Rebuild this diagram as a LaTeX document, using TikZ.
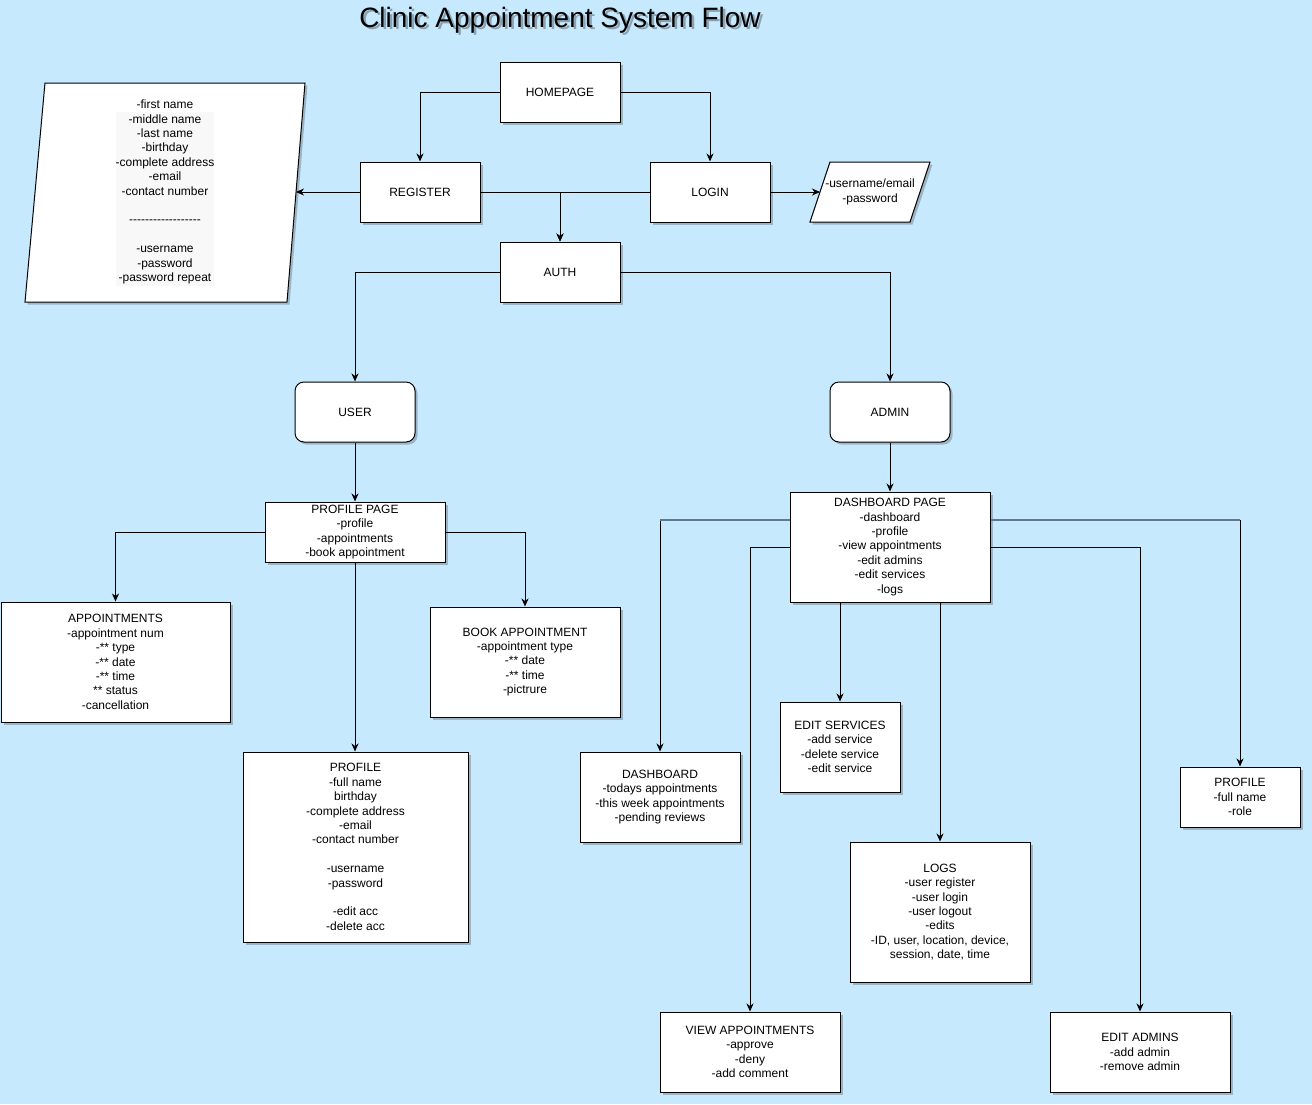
\documentclass[tikz,border=0pt]{standalone}
\usepackage{fontspec}
\setmainfont{Liberation Sans}
\usetikzlibrary{arrows.meta,shadows}
\definecolor{bg}{HTML}{C6E9FE}
\definecolor{segc}{HTML}{5F7A8E}
\definecolor{regbg}{HTML}{F8F8F8}
\newcommand\hy{\mbox{-}}
\begin{document}
\begin{tikzpicture}[x=1pt,y=-1pt,
  every node/.style={font=\fontsize{12}{14.4}\selectfont},
  boxshadow/.style={drop shadow={shadow xshift=2.5pt,shadow yshift=-2.5pt,opacity=0.22,fill=black}},
  box/.style={draw=black,fill=white,line width=1pt,align=center,inner sep=0pt,boxshadow},
  para/.style={draw=black,fill=white,line width=1pt,boxshadow},
  edge/.style={draw=black,line width=1pt,-{Stealth[length=8pt,width=7pt,inset=2.5pt]}},
  grayseg/.style={draw=segc,line width=1.6pt}]
\useasboundingbox (0,0) rectangle (1312,1104);
\fill[bg] (0,0) rectangle (1312,1104);

% title
\node[anchor=base,font=\fontsize{28}{33}\selectfont,text=black,opacity=0.3] (titlesh) at (562.5,29.5) {Clinic Appointment System Flow};
\node[anchor=base,font=\fontsize{28}{33}\selectfont] (title) at (560,27) {Clinic Appointment System Flow};

% parallelograms
\draw[para] (45,83) -- (305,83) -- (287,302) -- (25,302) -- cycle;
\fill[regbg] (116,112) rectangle (214,286);
\node[align=center,inner sep=0pt] (regtext) at (165,192) {-first name\\-middle name\\-last name\\-birthday\\-complete address\\-email\\-contact number\\\mbox{}\\\hy\hy\hy\hy\hy\hy\hy\hy\hy\hy\hy\hy\hy\hy\hy\hy\hy\hy\\\mbox{}\\-username\\-password\\-password repeat};
\coordinate (regpr) at (296,192);

\draw[para] (830,162) -- (930,162) -- (910,222) -- (810,222) -- cycle;
\node[align=center,inner sep=0pt] (logtext) at (870,192) {-username/email\\-password};
\coordinate (logpl) at (820,192);

% boxes
\node[box,minimum width=120pt,minimum height=60pt] (home) at (560,92) {HOMEPAGE};
\node[box,minimum width=120pt,minimum height=60pt] (reg) at (420,192) {REGISTER};
\node[box,minimum width=120pt,minimum height=60pt] (login) at (710,192) {LOGIN};
\node[box,minimum width=120pt,minimum height=60pt] (auth) at (560,272) {AUTH};
\node[box,rounded corners=9pt,minimum width=120pt,minimum height=60pt] (user) at (355,412) {USER};
\node[box,rounded corners=9pt,minimum width=120pt,minimum height=60pt] (admin) at (890,412) {ADMIN};
\node[box,minimum width=180pt,minimum height=60pt] (ppage) at (355,532) {PROFILE PAGE\\-profile\\-appointments\\-book appointment};
\node[box,minimum width=200pt,minimum height=110pt] (dpage) at (890,547) {DASHBOARD PAGE\\-dashboard\\-profile\\-view appointments\\-edit admins\\-edit services\\-logs};
\node[box,minimum width=229pt,minimum height=120pt] (appts) at (115.5,662) {APPOINTMENTS\\-appointment num\\-** type\\-** date\\-** time\\** status\\-cancellation};
\node[box,minimum width=190pt,minimum height=110pt] (book) at (525,662) {BOOK APPOINTMENT\\-appointment type\\-** date\\-** time\\-pictrure};
\node[box,minimum width=225pt,minimum height=190pt] (uprof) at (355.5,847) {PROFILE\\-full name\\birthday\\-complete address\\-email\\-contact number\\\mbox{}\\-username\\-password\\\mbox{}\\-edit acc\\-delete acc};
\node[box,minimum width=160pt,minimum height=90pt] (dash) at (660,797) {DASHBOARD\\-todays appointments\\-this week appointments\\-pending reviews};
\node[box,minimum width=120pt,minimum height=90pt] (esvc) at (840,747) {EDIT SERVICES\\-add service\\-delete service\\-edit service};
\node[box,minimum width=180pt,minimum height=140pt] (logs) at (940,912) {LOGS\\-user register\\-user login\\-user logout\\-edits\\-ID, user, location, device,\\session, date, time};
\node[box,minimum width=120pt,minimum height=60pt] (aprof) at (1240,797) {PROFILE\\-full name\\-role};
\node[box,minimum width=180pt,minimum height=80pt] (viewa) at (750,1052) {VIEW APPOINTMENTS\\-approve\\-deny\\-add comment};
\node[box,minimum width=180pt,minimum height=80pt] (eadm) at (1140,1052) {EDIT ADMINS\\-add admin\\-remove admin};

% connectors
\draw[edge] (home.west) -| (reg.north);
\draw[edge] (home.east) -| (login.north);
\draw[edge] (reg.west) -- (regpr);
\draw[edge] (login.east) -- (logpl);
\draw[edge] (reg.east) -| (auth.north);
\draw[edge] (login.west) -| (auth.north);
\draw[edge] (auth.west) -| (user.north);
\draw[edge] (auth.east) -| (admin.north);
\draw[edge] (user.south) -- (ppage.north);
\draw[edge] (admin.south) -- (dpage.north);
\draw[edge] (ppage.west) -| (appts.north);
\draw[edge] (ppage.east) -| (book.north);
\draw[edge] (ppage.south) -- (ppage.south |- uprof.north);
\coordinate (dpl) at ([yshift=27pt]dpage.west);
\coordinate (dpr) at ([yshift=27pt]dpage.east);
\draw[edge] (dpl) -| (dash.north);
\draw[grayseg] (dpl) -- (dpl -| dash.north);
\draw[edge] (dpage.west) -| (viewa.north);
\draw[edge] ([xshift=-50pt]dpage.south) -- (esvc.north);
\draw[edge] ([xshift=50pt]dpage.south) -- (logs.north);
\draw[edge] (dpr) -| (aprof.north);
\draw[grayseg] (dpr) -- (dpr -| aprof.north);
\draw[edge] (dpage.east) -| (eadm.north);
\end{tikzpicture}
\end{document}
